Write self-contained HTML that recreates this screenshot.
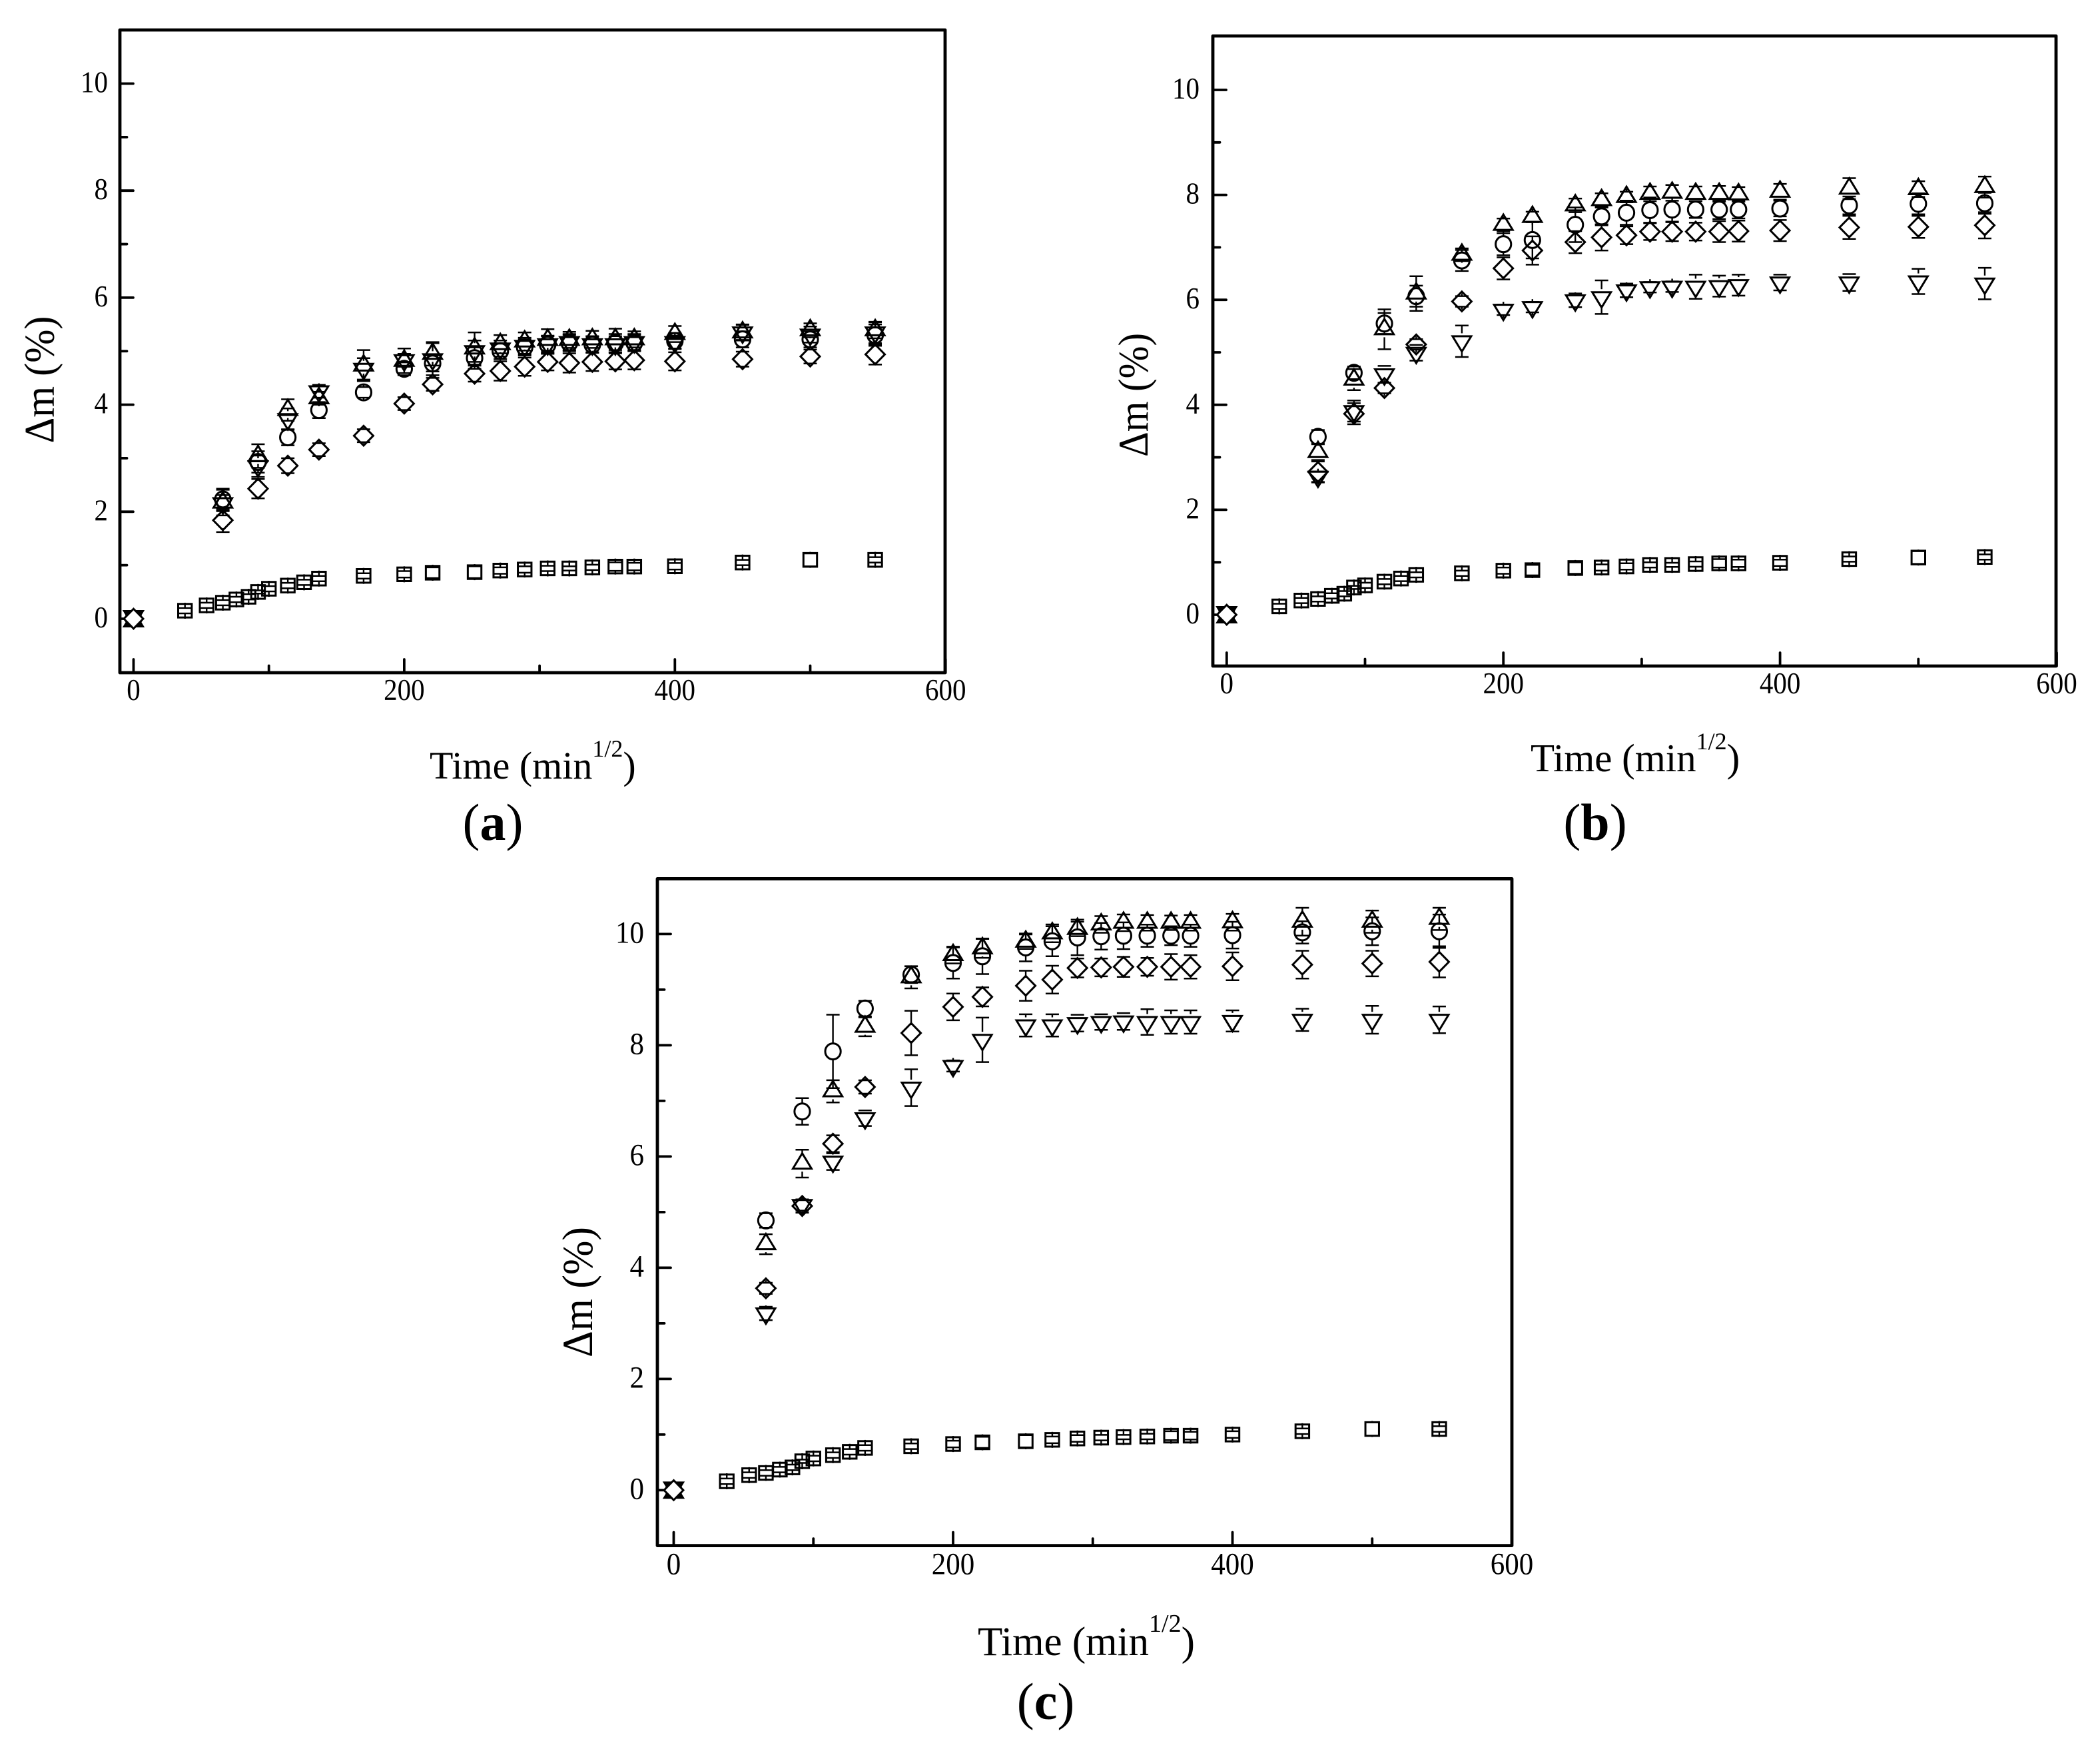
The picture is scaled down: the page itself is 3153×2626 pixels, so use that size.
<!DOCTYPE html>
<html>
<head>
<meta charset="utf-8">
<title>Mass change versus time, panels a to c</title>
<style>
html,body{margin:0;padding:0;background:#fff}
svg{display:block}
text{font-family:"Liberation Serif",serif;fill:#000}
</style>
</head>
<body>
<svg id="figure" xmlns="http://www.w3.org/2000/svg" width="3153" height="2626" viewBox="0 0 3153 2626">
  <rect x="0" y="0" width="3153" height="2626" fill="#fff"/>
  <g id="panel-a"></g>
  <g id="panel-b"></g>
  <g id="panel-c"></g>

  <text x="645" y="1169" font-size="58">Time (min<tspan dy="-33" font-size="36">1/2</tspan><tspan dy="33">)</tspan></text>
  <text x="2298" y="1158" font-size="59">Time (min<tspan dy="-33" font-size="36">1/2</tspan><tspan dy="33">)</tspan></text>
  <text x="1468" y="2485" font-size="61">Time (min<tspan dy="-35" font-size="38">1/2</tspan><tspan dy="35">)</tspan></text>

  <text transform="translate(80.6,570) rotate(-90)" text-anchor="middle" font-size="63" textLength="191" lengthAdjust="spacingAndGlyphs">Δm (%)</text>
  <text transform="translate(1723,593) rotate(-90)" text-anchor="middle" font-size="63" textLength="186" lengthAdjust="spacingAndGlyphs">Δm (%)</text>
  <text transform="translate(889,1940) rotate(-90)" text-anchor="middle" font-size="65" textLength="196" lengthAdjust="spacingAndGlyphs">Δm (%)</text>

  <text x="740" y="1261" text-anchor="middle" font-size="78">(<tspan font-weight="bold">a</tspan>)</text>
  <text x="2395" y="1261" text-anchor="middle" font-size="78">(<tspan font-weight="bold">b</tspan>)</text>
  <text x="1570" y="2581" text-anchor="middle" font-size="78">(<tspan font-weight="bold">c</tspan>)</text>
</svg>

<script>
// ---- Data ----
const xTickLabels = [0, 200, 400, 600];
const xMinorTicks = [100, 300, 500];
const yTickLabels = [0, 2, 4, 6, 8, 10];
const yMinorTicks = [1, 3, 5, 7, 9];

const timeSquares = [0,38,54,66,76,85,92,100,114,126,137,170,200,221,252,271,289,306,322,339,356,370,400,450,500,548];
const timeSeries = [0,66,92,114,137,170,200,221,252,271,289,306,322,339,356,370,400,450,500,548];

const squareErr = [.02,.05,.05,.05,.05,.05,.03,.05,.05,.05,.05,.05,.06,.1,.11,.06,.06,.05,.04,.05,.08,.07,.06,.05,.12,.05];

const aSquare = [0,.15,.25,.3,.36,.41,.5,.56,.62,.68,.75,.8,.83,.86,.87,.9,.92,.94,.94,.96,.975,.975,.98,1.05,1.1,1.1];
const aCircle = [0,2.23,2.93,3.39,3.9,4.23,4.67,4.77,4.87,5.0,5.07,5.12,5.15,5.12,5.15,5.15,5.19,5.22,5.22,5.3];
const aCircleErr = [.02,.2,.2,.15,.15,.1,.12,.15,.2,.15,.15,.17,.15,.15,.17,.15,.15,.15,.15,.2];
const aTriangle = [0,2.22,3.09,3.95,4.17,4.78,4.87,5.0,5.1,5.18,5.23,5.26,5.26,5.27,5.27,5.27,5.37,5.4,5.44,5.44];
const aTriangleErr = [.02,.24,.22,.2,.12,.29,.23,.22,.3,.17,.17,.2,.15,.16,.2,.15,.15,.14,.13,.15];
const aDown = [0,2.11,2.8,3.68,4.2,4.62,4.78,4.8,4.95,5.0,5.05,5.08,5.12,5.08,5.08,5.12,5.12,5.3,5.26,5.3];
const aDownErr = [.02,.15,.2,.2,.12,.2,.12,.3,.2,.15,.15,.15,.15,.15,.15,.15,.12,.15,.15,.2];
const aDiamond = [0,1.84,2.43,2.86,3.16,3.42,4.02,4.38,4.58,4.63,4.71,4.8,4.78,4.8,4.81,4.83,4.81,4.85,4.9,4.94];
const aDiamondErr = [.02,.22,.18,.14,.12,.12,.12,.12,.15,.18,.17,.16,.18,.17,.15,.17,.17,.14,.13,.19];

const bSquare = [0,.16,.27,.3,.36,.4,.52,.56,.63,.69,.76,.79,.84,.85,.89,.9,.92,.95,.95,.965,.98,.98,.99,1.06,1.09,1.1];
const bCircle = [0,3.39,4.61,5.55,6.07,6.75,7.06,7.14,7.43,7.59,7.66,7.71,7.72,7.72,7.72,7.72,7.74,7.8,7.83,7.84];
const bCircleErr = [.02,.13,.12,.2,.2,.2,.21,.35,.33,.17,.23,.24,.23,.16,.18,.17,.15,.17,.2,.2];
const bTriangle = [0,3.15,4.53,5.49,6.17,6.91,7.48,7.63,7.85,7.95,8.01,8.07,8.09,8.07,8.07,8.06,8.11,8.17,8.16,8.2];
const bTriangleErr = [.02,.15,.2,.38,.33,.12,.12,.1,.13,.13,.1,.14,.15,.14,.15,.14,.15,.2,.15,.2];
const bDown = [0,2.58,3.83,4.53,4.94,5.16,5.76,5.81,5.94,6.0,6.13,6.19,6.2,6.2,6.21,6.23,6.28,6.28,6.3,6.26];
const bDownErr = [.02,.1,.2,.16,.15,.3,.1,.1,.13,.32,.13,.1,.1,.23,.2,.2,.15,.16,.24,.3];
const bDiamond = [0,2.72,3.83,4.32,5.15,5.97,6.6,6.94,7.1,7.19,7.23,7.3,7.3,7.3,7.3,7.31,7.32,7.38,7.39,7.42];
const bDiamondErr = [.02,.2,.2,.1,.1,.1,.21,.27,.21,.25,.17,.16,.18,.17,.2,.2,.2,.22,.21,.25];

const cSquare = [0,.16,.27,.31,.37,.41,.52,.57,.63,.69,.76,.79,.83,.86,.88,.905,.93,.945,.955,.965,.98,.98,1.0,1.06,1.1,1.1];
const cCircle = [0,4.85,6.81,7.89,8.66,9.27,9.48,9.6,9.76,9.87,9.94,9.96,9.97,9.97,9.97,9.97,9.98,10.03,10.05,10.05];
const cCircleErr = [.02,.13,.24,.66,.14,.15,.28,.32,.25,.27,.32,.24,.24,.2,.17,.2,.24,.2,.25,.3];
const cTriangle = [0,4.47,5.92,7.22,8.38,9.27,9.67,9.79,9.91,10.06,10.14,10.22,10.25,10.25,10.25,10.25,10.26,10.27,10.27,10.32];
const cTriangleErr = [.02,.18,.25,.2,.17,.2,.15,.17,.13,.16,.13,.15,.15,.14,.13,.14,.15,.25,.2,.2];
const cDown = [0,3.13,5.08,5.86,6.64,7.19,7.58,8.05,8.31,8.31,8.35,8.37,8.38,8.37,8.37,8.37,8.39,8.41,8.41,8.41];
const cDownErr = [.02,.12,.1,.15,.14,.33,.1,.4,.2,.2,.15,.14,.15,.23,.21,.21,.19,.2,.25,.24];
const cDiamond = [0,3.63,5.11,6.23,7.25,8.22,8.69,8.87,9.07,9.18,9.39,9.4,9.41,9.41,9.41,9.41,9.42,9.45,9.47,9.5];
const cDiamondErr = [.02,.1,.12,.15,.12,.4,.24,.17,.27,.25,.17,.16,.18,.16,.23,.21,.25,.25,.23,.28];

// ---- Layout ----
const NS = 'http://www.w3.org/2000/svg';
const layoutA = {id:'panel-a', left:180, right:1419, top:45, bottom:1010, x0:200.5, xUnit:2.032, y0:929, yUnit:80.35, size:1, font:45, digit:20.5, yLabelRight:162, xLabelDrop:41};
const layoutB = {id:'panel-b', left:1821, right:3087, top:54, bottom:1000, x0:1841.8, xUnit:2.077, y0:923, yUnit:78.8, size:1, font:45, digit:20.5, yLabelRight:1801, xLabelDrop:41};
const layoutC = {id:'panel-c', left:987, right:2270, top:1319.4, bottom:2320.6, x0:1011.5, xUnit:2.0975, y0:2237.4, yUnit:83.5, size:1, font:47, digit:21.5, yLabelRight:967, xLabelDrop:43};

function svgEl(tag, parent) {
  const el = document.createElementNS(NS, tag);
  parent.appendChild(el);
  return el;
}

function drawLine(parent, x1, y1, x2, y2, width) {
  const el = svgEl('line', parent);
  el.setAttribute('x1', x1);
  el.setAttribute('y1', y1);
  el.setAttribute('x2', x2);
  el.setAttribute('y2', y2);
  el.setAttribute('stroke', '#000');
  el.setAttribute('stroke-width', width);
  return el;
}

function drawAxes(root, p, xs, ys) {
  const frame = svgEl('rect', root);
  
  
  frame.setAttribute('x', p.left);
  frame.setAttribute('y', p.top);
  frame.setAttribute('width', p.right - p.left);
  frame.setAttribute('height', p.bottom - p.top);
  frame.setAttribute('fill', 'none');
  frame.setAttribute('stroke', '#000');
  frame.setAttribute('stroke-width', 4.8);
  frame.setAttribute('stroke-linejoin', 'round');

  xTickLabels.forEach(function (v) {
    const tick = drawLine(root, xs(v), p.bottom, xs(v), p.bottom - 20, 3.8);
    
    
    tick.setAttribute('stroke-linecap', 'round');
    const label = svgEl('text', root);
    
    
    label.setAttribute('x', xs(v));
    label.setAttribute('y', p.bottom + p.xLabelDrop);
    label.setAttribute('text-anchor', 'middle');
    label.setAttribute('font-size', p.font);
    label.setAttribute('textLength', String(v).length * p.digit);
    label.setAttribute('lengthAdjust', 'spacingAndGlyphs');
    label.textContent = v;
  });
  xMinorTicks.forEach(function (v) {
    const tick = drawLine(root, xs(v), p.bottom, xs(v), p.bottom - 10.5, 3.8);
    
    
    tick.setAttribute('stroke-linecap', 'round');
  });
  yTickLabels.forEach(function (v) {
    const tick = drawLine(root, p.left, ys(v), p.left + 20, ys(v), 3.8);
    
    
    tick.setAttribute('stroke-linecap', 'round');
    const label = svgEl('text', root);
    
    
    label.setAttribute('x', p.yLabelRight);
    label.setAttribute('y', ys(v) + 13);
    label.setAttribute('text-anchor', 'end');
    label.setAttribute('font-size', p.font);
    label.setAttribute('textLength', String(v).length * p.digit);
    label.setAttribute('lengthAdjust', 'spacingAndGlyphs');
    label.textContent = v;
  });
  yMinorTicks.forEach(function (v) {
    const tick = drawLine(root, p.left, ys(v), p.left + 10.5, ys(v), 3.8);
    
    
    tick.setAttribute('stroke-linecap', 'round');
  });
}

function markerPath(kind, cx, cy, s) {
  if (kind === 'square') {
    const a = 10.2 * s;
    return 'M' + (cx - a) + ' ' + (cy - a) + 'H' + (cx + a) + 'V' + (cy + a) + 'H' + (cx - a) + 'Z';
  }
  if (kind === 'circle') {
    const rx = 11.6 * s, ry = 12 * s;
    return 'M' + (cx - rx) + ' ' + cy + 'A' + rx + ' ' + ry + ' 0 1 0 ' + (cx + rx) + ' ' + cy + 'A' + rx + ' ' + ry + ' 0 1 0 ' + (cx - rx) + ' ' + cy + 'Z';
  }
  if (kind === 'triangle') {
    const w = 14 * s, h = 11.5 * s;
    return 'M' + cx + ' ' + (cy - h) + 'L' + (cx + w) + ' ' + (cy + h) + 'H' + (cx - w) + 'Z';
  }
  if (kind === 'down') {
    const w = 14 * s, h = 11.5 * s;
    return 'M' + cx + ' ' + (cy + h) + 'L' + (cx + w) + ' ' + (cy - h) + 'H' + (cx - w) + 'Z';
  }
  const w = 14.5 * s, h = 14.8 * s;
  return 'M' + cx + ' ' + (cy - h) + 'L' + (cx + w) + ' ' + cy + 'L' + cx + ' ' + (cy + h) + 'L' + (cx - w) + ' ' + cy + 'Z';
}

function drawSeries(root, p, xs, ys, kind, times, values, errors) {
  const group = svgEl('g', root);
  
  
  const shift = kind === 'triangle' ? 4 : (kind === 'down' ? -4 : 0);
  const gap = 12;
  const capHalf = 10 * p.size;
  values.forEach(function (v, i) {
    const cx = xs(times[i]);
    const cy = ys(v);
    const mid = cy + shift;
    const spread = Math.abs(ys(v + errors[i]) - ys(v));

    const marker = svgEl('path', group);
    
    
    marker.setAttribute('d', markerPath(kind, cx, cy, p.size));
    marker.setAttribute('fill', (times[i] === 0 && kind === 'diamond') ? '#fff' : 'none');
    marker.setAttribute('stroke', '#000');
    marker.setAttribute('stroke-width', 3);

    if (times[i] > 0) {
      [-1, 1].forEach(function (side) {
        const cap = drawLine(group, cx - capHalf, mid + side * spread, cx + capHalf, mid + side * spread, 2.5);
        
        
        const stem = drawLine(group, cx, mid + side * spread, cx, mid + side * gap, 2.4);
        
        
      });
    }
  });
}

function drawPanel(p, square, circle, circleErr, triangle, triangleErr, down, downErr, diamond, diamondErr) {
  const root = document.getElementById(p.id);
  const xs = function (v) { return p.x0 + v * p.xUnit; };
  const ys = function (v) { return p.y0 - v * p.yUnit; };
  drawAxes(root, p, xs, ys);
  drawSeries(root, p, xs, ys, 'square', timeSquares, square, squareErr);
  drawSeries(root, p, xs, ys, 'circle', timeSeries, circle, circleErr);
  drawSeries(root, p, xs, ys, 'triangle', timeSeries, triangle, triangleErr);
  drawSeries(root, p, xs, ys, 'down', timeSeries, down, downErr);
  drawSeries(root, p, xs, ys, 'diamond', timeSeries, diamond, diamondErr);
}

drawPanel(layoutA, aSquare, aCircle, aCircleErr, aTriangle, aTriangleErr, aDown, aDownErr, aDiamond, aDiamondErr);
drawPanel(layoutB, bSquare, bCircle, bCircleErr, bTriangle, bTriangleErr, bDown, bDownErr, bDiamond, bDiamondErr);
drawPanel(layoutC, cSquare, cCircle, cCircleErr, cTriangle, cTriangleErr, cDown, cDownErr, cDiamond, cDiamondErr);
</script>
</body>
</html>
